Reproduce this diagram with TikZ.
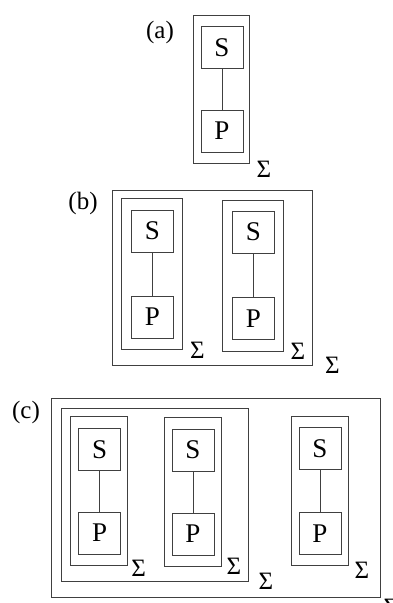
\documentclass[tikz,border=0pt]{standalone}
\usepackage{fontspec}
\setmainfont{Liberation Serif}
\tikzset{
  blk/.style={draw, minimum width=42pt, minimum height=42pt, inner sep=0pt, font=\fontsize{27}{27}\selectfont},
  lbl/.style={inner sep=0pt},
}
\begin{document}
\begin{tikzpicture}[x=1pt, y=-1pt, line width=0.9pt, draw=black!75, font=\fontsize{25}{25}\selectfont]
\useasboundingbox (0,0) rectangle (393,603);

\node[lbl] (la) at (160, 32) {(a)};
\draw (193.3, 15.3) rectangle (249.3, 163.3);
\node[blk] (sa) at (222, 47.7) {S};
\node[blk] (pa) at (222, 131) {P};
\draw (sa) -- (pa);
\node[lbl] (ga) at (264, 169) {Σ};

\node[lbl] (lb) at (83, 203) {(b)};
\draw (112, 190.7) rectangle (312, 365);
\draw (121.3, 198.7) rectangle (182.3, 349.3);
\draw (222.3, 200) rectangle (283.3, 351);
\node[blk] (sb1) at (152.5, 231) {S};
\node[blk] (pb1) at (152.5, 317) {P};
\node[blk] (sb2) at (253.3, 232) {S};
\node[blk] (pb2) at (253.3, 318.5) {P};
\draw (sb1) -- (pb1);
\draw (sb2) -- (pb2);
\node[lbl] (gb1) at (197.5, 350) {Σ};
\node[lbl] (gb2) at (298, 351.7) {Σ};
\node[lbl] (gb) at (332.5, 365) {Σ};

\node[lbl] (lc) at (26, 412) {(c)};
\draw (51.7, 398.7) rectangle (380, 597.7);
\draw (61.7, 408.3) rectangle (248.3, 581);
\draw (70.7, 416) rectangle (127.3, 565);
\draw (164.7, 417.7) rectangle (221.7, 566);
\draw (291.7, 416.7) rectangle (348.3, 565);
\node[blk] (sc1) at (99.7, 449.5) {S};
\node[blk] (pc1) at (99.7, 533) {P};
\node[blk] (sc2) at (193, 450) {S};
\node[blk] (pc2) at (193, 534) {P};
\node[blk] (sc3) at (320, 448.3) {S};
\node[blk] (pc3) at (320, 533.3) {P};
\draw (sc1) -- (pc1);
\draw (sc2) -- (pc2);
\draw (sc3) -- (pc3);
\node[lbl] (gc1) at (138.7, 568) {Σ};
\node[lbl] (gc2) at (234, 566.7) {Σ};
\node[lbl] (gcm) at (266, 581.7) {Σ};
\node[lbl] (gc3) at (362, 570) {Σ};
\node[lbl] (gc) at (391, 607) {Σ};

\end{tikzpicture}
\end{document}
